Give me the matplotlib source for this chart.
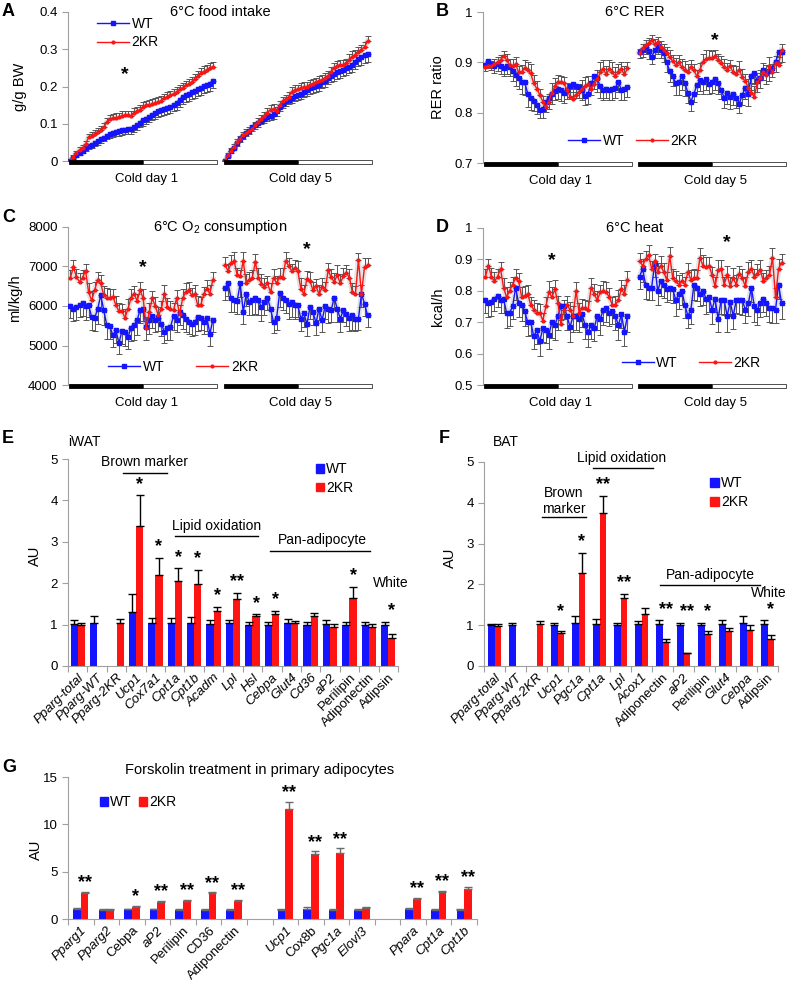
import matplotlib
matplotlib.use('Agg')
import matplotlib.pyplot as plt
import matplotlib.transforms as mtrans
from matplotlib.patches import Rectangle, Patch
from matplotlib.lines import Line2D
import numpy as np

plt.rcParams['font.family'] = ['Liberation Sans', 'DejaVu Sans']
plt.rcParams['mathtext.fontset'] = 'custom'
plt.rcParams['mathtext.rm'] = 'Liberation Sans'
plt.rcParams['mathtext.it'] = 'Liberation Sans:italic'

BLUE = '#1414ff'
RED = '#ff1414'
GRAY = '#a0a0a0'
ERRC = '#555555'
nan = np.nan

#-------------------------------------------------------------
# time course data (48 points per cold day)

# A: food intake, g/g BW
A_WT1 = [0.000, 0.008, 0.015, 0.022, 0.028, 0.034, 0.039, 0.044, 0.049, 0.053, 0.058, 0.063,
         0.068, 0.072, 0.076, 0.078, 0.080, 0.082, 0.084, 0.085, 0.086, 0.090, 0.097, 0.103,
         0.109, 0.114, 0.119, 0.124, 0.129, 0.133, 0.137, 0.140, 0.143, 0.146, 0.150, 0.155,
         0.163, 0.171, 0.176, 0.180, 0.184, 0.188, 0.193, 0.197, 0.201, 0.205, 0.208, 0.215]
A_KR1 = [0.000, 0.012, 0.022, 0.030, 0.036, 0.045, 0.064, 0.068, 0.073, 0.079, 0.083, 0.090,
         0.105, 0.112, 0.115, 0.116, 0.117, 0.121, 0.123, 0.123, 0.121, 0.128, 0.133, 0.138,
         0.145, 0.149, 0.150, 0.153, 0.156, 0.158, 0.162, 0.168, 0.171, 0.176, 0.181, 0.186,
         0.192, 0.197, 0.203, 0.206, 0.212, 0.220, 0.228, 0.236, 0.240, 0.245, 0.250, 0.252]
A_WT5 = [0.000, 0.014, 0.026, 0.036, 0.047, 0.058, 0.068, 0.074, 0.081, 0.090, 0.097, 0.102,
         0.108, 0.114, 0.118, 0.122, 0.126, 0.134, 0.145, 0.154, 0.160, 0.165, 0.170, 0.174,
         0.178, 0.181, 0.185, 0.190, 0.195, 0.198, 0.201, 0.205, 0.211, 0.216, 0.222, 0.228,
         0.233, 0.238, 0.242, 0.245, 0.249, 0.253, 0.258, 0.266, 0.273, 0.279, 0.284, 0.287]
A_KR5 = [0.000, 0.016, 0.028, 0.038, 0.050, 0.060, 0.070, 0.076, 0.080, 0.086, 0.096, 0.105,
         0.112, 0.120, 0.130, 0.138, 0.140, 0.133, 0.150, 0.160, 0.166, 0.172, 0.186, 0.190,
         0.192, 0.196, 0.198, 0.200, 0.205, 0.208, 0.211, 0.215, 0.218, 0.222, 0.228, 0.240,
         0.250, 0.256, 0.258, 0.257, 0.262, 0.272, 0.280, 0.285, 0.292, 0.298, 0.306, 0.322]
A_WT_ERR = [0.001, 0.003, 0.004, 0.005, 0.006, 0.007, 0.008, 0.008, 0.009, 0.009, 0.010, 0.010,
            0.010, 0.011, 0.011, 0.011, 0.012, 0.012, 0.012, 0.012, 0.013, 0.013, 0.013, 0.013,
            0.014, 0.014, 0.014, 0.015, 0.015, 0.015, 0.015, 0.016, 0.016, 0.016, 0.016, 0.017,
            0.017, 0.017, 0.018, 0.018, 0.018, 0.018, 0.019, 0.019, 0.019, 0.020, 0.020, 0.020]
A_KR_ERR = [0.002, 0.005, 0.006, 0.007, 0.008, 0.008, 0.009, 0.009, 0.010, 0.010, 0.010, 0.011,
            0.011, 0.011, 0.011, 0.012, 0.012, 0.012, 0.012, 0.012, 0.012, 0.013, 0.013, 0.013,
            0.013, 0.013, 0.013, 0.013, 0.013, 0.013, 0.013, 0.013, 0.013, 0.013, 0.013, 0.013,
            0.013, 0.013, 0.013, 0.013, 0.013, 0.014, 0.014, 0.014, 0.014, 0.014, 0.014, 0.014]

# B: RER
B_WT1 = [0.895, 0.902, 0.897, 0.893, 0.896, 0.893, 0.888, 0.893, 0.890, 0.882, 0.874, 0.868,
         0.860, 0.860, 0.838, 0.830, 0.824, 0.816, 0.806, 0.808, 0.822, 0.830, 0.838, 0.843,
         0.848, 0.845, 0.840, 0.846, 0.852, 0.856, 0.853, 0.851, 0.845, 0.833, 0.838, 0.858,
         0.872, 0.868, 0.852, 0.845, 0.848, 0.845, 0.848, 0.850, 0.860, 0.846, 0.848, 0.851]
B_KR1 = [0.890, 0.892, 0.893, 0.897, 0.900, 0.905, 0.912, 0.905, 0.895, 0.893, 0.896, 0.880,
         0.881, 0.889, 0.885, 0.878, 0.858, 0.848, 0.835, 0.822, 0.812, 0.822, 0.840, 0.852,
         0.860, 0.860, 0.858, 0.845, 0.832, 0.828, 0.836, 0.842, 0.848, 0.852, 0.856, 0.848,
         0.856, 0.866, 0.880, 0.886, 0.876, 0.887, 0.880, 0.872, 0.880, 0.886, 0.876, 0.888]
B_WT5 = [0.920, 0.925, 0.930, 0.922, 0.910, 0.925, 0.932, 0.925, 0.918, 0.900, 0.882, 0.872,
         0.858, 0.860, 0.872, 0.858, 0.840, 0.822, 0.838, 0.855, 0.864, 0.860, 0.866, 0.856,
         0.860, 0.867, 0.858, 0.845, 0.830, 0.840, 0.832, 0.838, 0.830, 0.818, 0.835, 0.850,
         0.838, 0.872, 0.878, 0.862, 0.868, 0.885, 0.878, 0.882, 0.888, 0.900, 0.920, 0.920]
B_KR5 = [0.918, 0.928, 0.935, 0.938, 0.944, 0.936, 0.940, 0.930, 0.925, 0.918, 0.910, 0.902,
         0.895, 0.900, 0.890, 0.884, 0.880, 0.890, 0.884, 0.872, 0.885, 0.900, 0.907, 0.909,
         0.908, 0.912, 0.905, 0.898, 0.890, 0.885, 0.892, 0.880, 0.876, 0.885, 0.870, 0.862,
         0.850, 0.840, 0.832, 0.860, 0.868, 0.880, 0.875, 0.892, 0.880, 0.898, 0.895, 0.925]
B_WT_ERR = [0.012, 0.014, 0.013, 0.015, 0.014, 0.016, 0.015, 0.017, 0.018, 0.020, 0.022, 0.020,
            0.022, 0.024, 0.026, 0.025, 0.020, 0.018, 0.016, 0.018, 0.020, 0.022, 0.020, 0.018,
            0.020, 0.022, 0.020, 0.018, 0.020, 0.022, 0.024, 0.022, 0.020, 0.018, 0.020, 0.022,
            0.024, 0.026, 0.022, 0.020, 0.018, 0.020, 0.022, 0.020, 0.018, 0.020, 0.022, 0.020]
B_KR_ERR = [0.008, 0.009, 0.010, 0.010, 0.011, 0.010, 0.010, 0.012, 0.012, 0.013, 0.014, 0.012,
            0.014, 0.015, 0.016, 0.018, 0.016, 0.014, 0.012, 0.012, 0.014, 0.016, 0.018, 0.016,
            0.014, 0.012, 0.012, 0.014, 0.016, 0.014, 0.012, 0.014, 0.016, 0.018, 0.016, 0.014,
            0.016, 0.018, 0.020, 0.018, 0.016, 0.018, 0.020, 0.018, 0.016, 0.014, 0.016, 0.012]

# C: O2 consumption, ml/kg/h
C_WT1 = [6000, 5930, 5975, 6020, 6075, 5990, 6020, 5720, 5700, 5930, 6270, 5890,
         5510, 5485, 5260, 5385, 5060, 5370, 5340, 5215, 5450, 5510, 5640, 5910,
         5930, 5470, 5640, 5740, 5640, 5700, 5550, 5340, 5450, 5470, 5740, 5640,
         5850, 5760, 5680, 5600, 5550, 5600, 5720, 5700, 5600, 5700, 5300, 5650]
C_KR1 = [6720, 6990, 6730, 6610, 6720, 6890, 6350, 6140, 6400, 6670, 6570, 6270,
         6210, 6210, 6240, 6020, 5870, 5870, 5700, 5930, 6210, 6310, 6130, 6400,
         6190, 5450, 5850, 6190, 5990, 5760, 5930, 6310, 5970, 5930, 5890, 6190,
         5790, 6190, 6350, 6400, 6270, 6310, 6020, 6020, 6310, 6440, 6310, 6670]
C_WT5 = [6460, 6580, 6190, 6160, 6130, 6570, 5850, 6310, 6100, 6160, 6210, 6140,
         5970, 6100, 6210, 5930, 5590, 5700, 6330, 6190, 6160, 6040, 6100, 6020,
         6020, 5680, 5820, 5540, 5970, 5850, 5570, 5930, 5640, 5990, 5930, 5890,
         6210, 5930, 5680, 5890, 5810, 5700, 5760, 5680, 5680, 6310, 6060, 5760]
C_KR5 = [7030, 6890, 7080, 7140, 6780, 6750, 7140, 6570, 6670, 6720, 7110, 6720,
         6550, 6480, 6570, 6350, 6720, 6580, 6730, 6720, 7140, 7010, 6890, 6950,
         6890, 6440, 6300, 6690, 6630, 6400, 6500, 6300, 6480, 6400, 6900, 6730,
         6610, 6780, 6580, 6750, 6840, 6720, 6350, 6300, 7160, 6310, 6990, 7030]
C_WT_ERR = [300, 320, 340, 310, 330, 350, 300, 320, 340, 380, 400, 360,
            340, 320, 300, 330, 280, 320, 350, 300, 330, 360, 380, 340,
            300, 320, 350, 300, 310, 330, 300, 280, 310, 330, 350, 300,
            320, 340, 330, 300, 320, 340, 360, 320, 300, 330, 310, 300]
C_KR_ERR = [200, 180, 210, 230, 190, 170, 220, 240, 200, 180, 210, 230,
            250, 220, 200, 240, 210, 190, 220, 250, 230, 200, 180, 210,
            240, 260, 220, 200, 230, 210, 190, 220, 240, 200, 180, 210,
            230, 250, 220, 200, 190, 210, 230, 200, 180, 210, 220, 190]

# D: heat, kcal/h
D_WT1 = [0.770, 0.760, 0.765, 0.775, 0.785, 0.772, 0.775, 0.730, 0.730, 0.750, 0.810, 0.760,
         0.755, 0.735, 0.700, 0.700, 0.655, 0.675, 0.640, 0.680, 0.675, 0.660, 0.700, 0.690,
         0.720, 0.750, 0.750, 0.720, 0.685, 0.720, 0.720, 0.710, 0.725, 0.690, 0.670, 0.690,
         0.680, 0.720, 0.710, 0.740, 0.745, 0.730, 0.735, 0.720, 0.690, 0.725, 0.670, 0.720]
D_KR1 = [0.845, 0.880, 0.845, 0.830, 0.845, 0.870, 0.810, 0.780, 0.800, 0.820, 0.840, 0.830,
         0.780, 0.785, 0.790, 0.755, 0.740, 0.730, 0.730, 0.705, 0.750, 0.795, 0.780, 0.805,
         0.760, 0.695, 0.740, 0.755, 0.740, 0.720, 0.800, 0.730, 0.745, 0.745, 0.740, 0.810,
         0.790, 0.770, 0.795, 0.800, 0.795, 0.780, 0.755, 0.755, 0.770, 0.805, 0.790, 0.835]
D_WT5 = [0.845, 0.870, 0.820, 0.810, 0.810, 0.885, 0.800, 0.830, 0.820, 0.805, 0.810, 0.805,
         0.770, 0.790, 0.800, 0.755, 0.720, 0.740, 0.820, 0.810, 0.790, 0.800, 0.775, 0.780,
         0.740, 0.775, 0.710, 0.770, 0.770, 0.720, 0.765, 0.720, 0.770, 0.770, 0.770, 0.740,
         0.760, 0.810, 0.750, 0.740, 0.760, 0.775, 0.760, 0.745, 0.745, 0.740, 0.820, 0.760]
D_KR5 = [0.895, 0.880, 0.900, 0.915, 0.870, 0.895, 0.860, 0.880, 0.860, 0.835, 0.910, 0.840,
         0.830, 0.820, 0.830, 0.820, 0.860, 0.835, 0.840, 0.840, 0.905, 0.880, 0.875, 0.880,
         0.850, 0.815, 0.865, 0.870, 0.820, 0.850, 0.815, 0.840, 0.820, 0.855, 0.840, 0.815,
         0.860, 0.870, 0.845, 0.855, 0.865, 0.830, 0.840, 0.850, 0.905, 0.780, 0.870, 0.890]
D_WT_ERR = [0.040, 0.042, 0.045, 0.040, 0.038, 0.042, 0.045, 0.048, 0.042, 0.040, 0.038, 0.045,
            0.050, 0.048, 0.045, 0.042, 0.040, 0.045, 0.048, 0.042, 0.040, 0.045, 0.050, 0.048,
            0.045, 0.042, 0.040, 0.045, 0.048, 0.050, 0.045, 0.042, 0.040, 0.045, 0.048, 0.042,
            0.040, 0.045, 0.050, 0.048, 0.045, 0.042, 0.040, 0.045, 0.048, 0.042, 0.045, 0.050]
D_KR_ERR = [0.025, 0.022, 0.028, 0.030, 0.025, 0.022, 0.030, 0.032, 0.028, 0.025, 0.030, 0.028,
            0.032, 0.030, 0.028, 0.025, 0.030, 0.032, 0.028, 0.025, 0.030, 0.035, 0.032, 0.028,
            0.025, 0.030, 0.032, 0.028, 0.025, 0.030, 0.028, 0.032, 0.030, 0.025, 0.028, 0.030,
            0.032, 0.028, 0.025, 0.030, 0.032, 0.028, 0.025, 0.030, 0.032, 0.028, 0.030, 0.028]

#-------------------------------------------------------------
# qPCR data

E_GENES = ['Pparg-total', 'Pparg-WT', 'Pparg-2KR', 'Ucp1', 'Cox7a1', 'Cpt1a', 'Cpt1b', 'Acadm',
           'Lpl', 'Hsl', 'Cebpa', 'Glut4', 'Cd36', 'aP2', 'Perilipin', 'Adiponectin', 'Adipsin']
E_WT = [1.02, 1.05, nan, 1.30, 1.03, 1.03, 1.05, 1.02, 1.03, 1.00, 1.00, 1.03, 1.00, 1.02, 1.00, 1.00, 1.00]
E_WT_ERR = [0.10, 0.15, nan, 0.44, 0.12, 0.12, 0.13, 0.08, 0.09, 0.07, 0.07, 0.10, 0.06, 0.10, 0.07, 0.06, 0.07]
E_KR = [1.00, nan, 1.03, 3.37, 2.21, 2.05, 1.97, 1.33, 1.62, 1.20, 1.25, 1.03, 1.20, 0.95, 1.65, 0.95, 0.67]
E_KR_ERR = [0.05, nan, 0.10, 0.75, 0.40, 0.31, 0.36, 0.10, 0.14, 0.05, 0.09, 0.06, 0.08, 0.07, 0.27, 0.07, 0.10]
E_SIG = ['', '', '', '*', '*', '*', '*', '*', '**', '*', '*', '', '', '', '*', '', '*']

F_GENES = ['Pparg-total', 'Pparg-WT', 'Pparg-2KR', 'Ucp1', 'Pgc1a', 'Cpt1a', 'Lpl', 'Acox1',
           'Adiponectin', 'aP2', 'Perilipin', 'Glut4', 'Cebpa', 'Adipsin']
F_WT = [1.00, 1.00, nan, 1.00, 1.06, 1.03, 1.00, 1.03, 1.03, 1.00, 1.00, 1.02, 1.06, 1.02]
F_WT_ERR = [0.04, 0.05, nan, 0.06, 0.17, 0.12, 0.05, 0.08, 0.09, 0.06, 0.06, 0.10, 0.16, 0.10]
F_KR = [0.97, nan, 1.02, 0.80, 2.27, 3.75, 1.67, 1.28, 0.60, 0.32, 0.78, 0.86, 0.88, 0.66]
F_KR_ERR = [0.05, nan, 0.09, 0.07, 0.51, 0.42, 0.10, 0.14, 0.06, 0.01, 0.07, 0.07, 0.12, 0.11]
F_SIG = ['', '', '', '*', '*', '**', '**', '', '**', '**', '*', '', '', '*']

G_GENES = ['Pparg1', 'Pparg2', 'Cebpa', 'aP2', 'Perilipin', 'CD36', 'Adiponectin', '',
           'Ucp1', 'Cox8b', 'Pgc1a', 'Elovl3', '', 'Ppara', 'Cpt1a', 'Cpt1b']
G_WT = [1.05, 1.00, 1.05, 1.05, 1.00, 1.00, 1.00, nan, 1.00, 1.05, 1.00, 1.00, nan, 1.05, 1.00, 1.00]
G_WT_ERR = [0.10, 0.05, 0.05, 0.05, 0.05, 0.05, 0.05, nan, 0.05, 0.20, 0.05, 0.05, nan, 0.10, 0.05, 0.05]
G_KR = [2.70, 0.97, 1.30, 1.75, 1.95, 2.70, 1.85, nan, 11.6, 6.90, 7.00, 1.18, nan, 2.10, 2.84, 3.19]
G_KR_ERR = [0.15, 0.05, 0.08, 0.15, 0.10, 0.10, 0.15, nan, 0.75, 0.25, 0.45, 0.05, nan, 0.15, 0.15, 0.18]
G_SIG = ['**', '', '*', '**', '**', '**', '**', '', '**', '**', '**', '', '', '**', '**', '**']

#-------------------------------------------------------------

fig = plt.figure(figsize=(7.95, 9.85), dpi=100)

def rect(l, t, r, b):
    # pixel box -> figure fraction
    return [l / 795, 1 - b / 985, (r - l) / 795, (b - t) / 985]

def style_axes(ax):
    for s in ['top', 'right']:
        ax.spines[s].set_visible(False)
    ax.spines['left'].set_color(GRAY)
    ax.spines['bottom'].set_color(GRAY)
    ax.tick_params(axis='y', colors=GRAY, labelcolor='black', labelsize=9.5, length=4, width=0.8)

def ts_panel(ax, wt1, kr1, wt5, kr5, wt_err, kr_err, ylim, yticks, ylabels):
    style_axes(ax)
    ax.spines['bottom'].set_visible(False)
    for x0, wt, kr in ((0, wt1, kr1), (51, wt5, kr5)):
        x = x0 + np.arange(len(wt))
        we = np.array(wt_err[:len(wt)])
        ke = np.array(kr_err[:len(kr)])
        ax.errorbar(x, wt, yerr=[we, np.zeros(len(we))], fmt='none', ecolor=ERRC,
                    elinewidth=0.7, capsize=2.3, capthick=0.7, zorder=2)
        ax.errorbar(x, kr, yerr=[np.zeros(len(ke)), ke], fmt='none', ecolor=ERRC,
                    elinewidth=0.7, capsize=2.3, capthick=0.7, zorder=2)
        ax.plot(x, wt, color='#b0b0b0', lw=4, alpha=0.35, zorder=1)
        ax.plot(x, kr, color='#b0b0b0', lw=4, alpha=0.35, zorder=1)
        ax.plot(x, wt, color=BLUE, lw=1, marker='s', ms=2.4, zorder=3)
        ax.plot(x, kr, color=RED, lw=1, marker='o', ms=2.0, zorder=3)
    ax.set_xlim(-0.8, 99.8)
    ax.set_ylim(*ylim)
    ax.set_xticks([])
    ax.set_yticks(yticks)
    ax.set_yticklabels(ylabels)
    # dark/light bar under each cold day
    trans = mtrans.blended_transform_factory(ax.transData, ax.transAxes)
    for a, b in ((-0.5, 48.5), (50.5, 99.5)):
        m = (a + b) / 2
        ax.add_patch(Rectangle((a, -0.018), m - a, 0.026, transform=trans, facecolor='black',
                               edgecolor='black', lw=0.6, clip_on=False, zorder=5))
        ax.add_patch(Rectangle((m, -0.018), b - m, 0.026, transform=trans, facecolor='white',
                               edgecolor='#333333', lw=0.6, clip_on=False, zorder=5))
    for xc, lab in ((25, 'Cold day 1'), (76, 'Cold day 5')):
        ax.annotate(lab, xy=(xc, 0), xycoords=trans, xytext=(0, -13), textcoords='offset points',
                    ha='center', va='center', fontsize=9.5)

def ts_legend(ax, loc_xy, ncol, colsp):
    h = [Line2D([], [], color=BLUE, lw=1, marker='s', ms=2.4, label='WT'),
         Line2D([], [], color=RED, lw=1, marker='o', ms=2.0, label='2KR')]
    ax.legend(handles=h, loc='center left' if ncol == 2 else 'upper left', bbox_to_anchor=loc_xy,
              ncol=ncol, frameon=False, fontsize=10, handlelength=2.3, handletextpad=0.2,
              labelspacing=0.3, columnspacing=colsp, borderpad=0, borderaxespad=0)

def star(ax, x, y):
    ax.text(x, y, '*', ha='center', va='center', fontsize=14, fontweight='bold')

# ---- A
axA = fig.add_axes(rect(68, 12, 373, 161))
ts_panel(axA, A_WT1, A_KR1, A_WT5, A_KR5, A_WT_ERR, A_KR_ERR, (0, 0.4),
         [0, 0.1, 0.2, 0.3, 0.4], ['0', '0.1', '0.2', '0.3', '0.4'])
axA.text(0.5, 1.0, '6°C food intake', transform=axA.transAxes, ha='center', va='center', fontsize=10.5)
axA.set_ylabel('g/g BW', fontsize=10.5)
axA.yaxis.set_label_coords(-0.135, 0.5)
ts_legend(axA, (0.095, 0.965), 1, 1)
star(axA, 18, 0.232)

# ---- B
axB = fig.add_axes(rect(483, 12, 787, 163))
ts_panel(axB, B_WT1, B_KR1, B_WT5, B_KR5, B_WT_ERR, B_KR_ERR, (0.7, 1.0),
         [0.7, 0.8, 0.9, 1.0], ['0.7', '0.8', '0.9', '1'])
axB.text(0.5, 1.0, '6°C RER', transform=axB.transAxes, ha='center', va='center', fontsize=10.5)
axB.set_ylabel('RER ratio', fontsize=10.5)
axB.yaxis.set_label_coords(-0.125, 0.5)
ts_legend(axB, (0.28, 0.148), 2, 0.8)
star(axB, 76, 0.944)

# ---- C
axC = fig.add_axes(rect(68, 227, 373, 385))
ts_panel(axC, C_WT1, C_KR1, C_WT5, C_KR5, C_WT_ERR, C_KR_ERR, (4000, 8000),
         [4000, 5000, 6000, 7000, 8000], ['4000', '5000', '6000', '7000', '8000'])
axC.text(0.5, 1.0, '6°C O$_2$ consumption', transform=axC.transAxes, ha='center', va='center', fontsize=10.5)
axC.set_ylabel('ml/kg/h', fontsize=10.5)
axC.yaxis.set_label_coords(-0.152, 0.55)
ts_legend(axC, (0.131, 0.116), 2, 2.3)
star(axC, 24, 6980)
star(axC, 78, 7430)

# ---- D
axD = fig.add_axes(rect(483, 228, 787, 385))
ts_panel(axD, D_WT1, D_KR1, D_WT5, D_KR5, D_WT_ERR, D_KR_ERR, (0.5, 1.0),
         [0.5, 0.6, 0.7, 0.8, 0.9, 1.0], ['0.5', '0.6', '0.7', '0.8', '0.9', '1'])
axD.text(0.5, 1.0, '6°C heat', transform=axD.transAxes, ha='center', va='center', fontsize=10.5)
axD.set_ylabel('kcal/h', fontsize=10.5)
axD.yaxis.set_label_coords(-0.125, 0.5)
ts_legend(axD, (0.456, 0.138), 2, 1.5)
star(axD, 22, 0.895)
star(axD, 80, 0.952)

#-------------------------------------------------------------

def bar_panel(ax, genes, wt, wt_err, kr, kr_err, sig, width, ecolor, upright, ymax, yticks, star_off):
    style_axes(ax)
    pos = np.arange(len(genes))
    wt = np.array(wt); kr = np.array(kr)
    wt_err = np.array(wt_err); kr_err = np.array(kr_err)
    ax.bar(pos - width / 2, wt, width, color=BLUE, zorder=2)
    ax.bar(pos + width / 2, kr, width, color=RED, zorder=2)
    ax.errorbar(pos - width / 2, wt, yerr=[np.zeros(len(wt)), wt_err], fmt='none', ecolor=ecolor,
                elinewidth=1, capsize=2.6, capthick=1, zorder=3)
    ax.errorbar(pos + width / 2, kr, yerr=[np.zeros(len(kr)), kr_err], fmt='none', ecolor=ecolor,
                elinewidth=1, capsize=2.6, capthick=1, zorder=3)
    for i, s in enumerate(sig):
        if s:
            top = np.nanmax([wt[i] + wt_err[i], kr[i] + kr_err[i]])
            ax.annotate(s, xy=(pos[i] + width / 2, top), xytext=(0, star_off), textcoords='offset points',
                        ha='center', va='center', fontsize=13, fontweight='bold')
    ax.set_xlim(-0.5, len(genes) - 0.5)
    ax.set_ylim(0, ymax)
    ax.set_yticks(yticks)
    ax.set_xticks(pos)
    ax.set_xticklabels(genes, rotation=45, ha='right', rotation_mode='anchor', fontsize=9.5)
    for t in ax.get_xticklabels():
        if t.get_text() not in upright:
            t.set_fontstyle('italic')
    ax.set_xticks(np.arange(len(genes) + 1) - 0.5, minor=True)
    ax.tick_params(axis='x', which='major', length=0, pad=4)
    ax.tick_params(axis='x', which='minor', length=4, color=GRAY, width=0.8)
    ax.set_ylabel('AU', fontsize=10.5)

def bar_legend(ax, xy, ncol):
    h = [Patch(color=BLUE, label='WT'), Patch(color=RED, label='2KR')]
    ax.legend(handles=h, loc='upper left', bbox_to_anchor=xy, ncol=ncol, frameon=False,
              fontsize=10, handlelength=0.6, handleheight=0.6, handletextpad=0.15,
              labelspacing=0.35, columnspacing=0.5, borderpad=0, borderaxespad=0)

def group(ax, x0, x1, yl, xt, yt, label):
    ax.plot([x0, x1], [yl, yl], color='black', lw=1, clip_on=False)
    ax.text(xt, yt, label, ha='center', va='center', fontsize=10, clip_on=False)

# ---- E
axE = fig.add_axes(rect(68, 459, 398, 666))
bar_panel(axE, E_GENES, E_WT, E_WT_ERR, E_KR, E_KR_ERR, E_SIG, 0.37, 'black',
          {'Perilipin', 'Adiponectin', 'Adipsin'}, 5, [0, 1, 2, 3, 4, 5], 8)
axE.yaxis.set_label_coords(-0.08, 0.53)
group(axE, 2.33, 4.6, 4.67, 3.42, 4.93, 'Brown marker')
group(axE, 5.0, 9.3, 3.13, 7.16, 3.38, 'Lipid oxidation')
group(axE, 9.9, 15.07, 2.77, 12.6, 3.04, 'Pan-adipocyte')
axE.text(15.2, 2.0, 'White', ha='left', va='center', fontsize=10, clip_on=False)
axE.text(0.0, 1.08, 'iWAT', transform=axE.transAxes, ha='left', va='center', fontsize=10)
bar_legend(axE, (0.75, 0.985), 1)

# ---- F
axF = fig.add_axes(rect(484, 462, 778, 666))
bar_panel(axF, F_GENES, F_WT, F_WT_ERR, F_KR, F_KR_ERR, F_SIG, 0.31, 'black',
          {'Perilipin', 'Adiponectin', 'Adipsin'}, 5, [0, 1, 2, 3, 4, 5], 8)
axF.yaxis.set_label_coords(-0.093, 0.53)
group(axF, 2.25, 4.34, 3.64, 3.3, 4.05, 'Brown\nmarker')
group(axF, 4.7, 7.53, 4.85, 6.04, 5.1, 'Lipid oxidation')
group(axF, 7.88, 12.64, 1.98, 10.26, 2.22, 'Pan-adipocyte')
axF.text(13.93, 1.78, 'White', ha='right', va='center', fontsize=10, clip_on=False)
axF.text(0.03, 1.1, 'BAT', transform=axF.transAxes, ha='left', va='center', fontsize=10)
bar_legend(axF, (0.77, 0.93), 1)

# ---- G
axG = fig.add_axes(rect(68, 777, 477, 919))
bar_panel(axG, G_GENES, G_WT, G_WT_ERR, G_KR, G_KR_ERR, G_SIG, 0.3, '#6a6a6a',
          {'Cebpa', 'Perilipin', 'CD36', 'Adiponectin', 'Cox8b'}, 15, [0, 5, 10, 15], 6.5)
axG.yaxis.set_label_coords(-0.062, 0.49)
axG.text(0.469, 1.05, 'Forskolin treatment in primary adipocytes', transform=axG.transAxes,
         ha='center', va='center', fontsize=10.5)
bar_legend(axG, (0.078, 0.87), 2)

# panel letters
for lab, px, py in (('A', 2, 11), ('B', 436, 11), ('C', 2, 217), ('D', 436, 227),
                    ('E', 2, 439), ('F', 439, 439), ('G', 2, 767)):
    fig.text(px / 795, 1 - py / 985, lab, fontsize=13, fontweight='bold', ha='left', va='center')

fig.savefig('out.png', dpi=100)
